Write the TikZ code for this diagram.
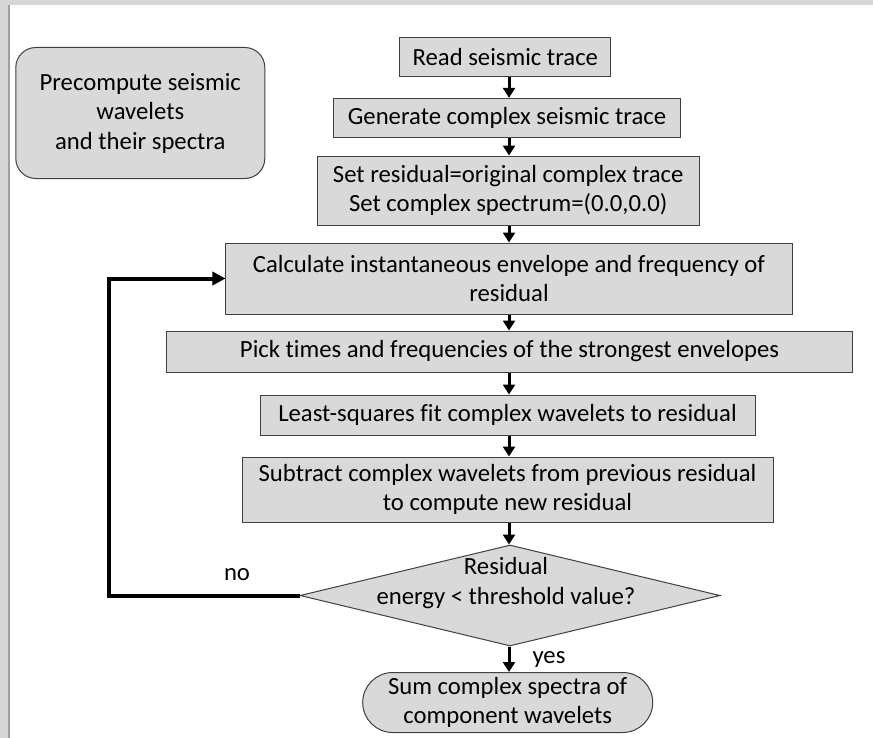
\documentclass[tikz,border=0pt]{standalone}
\usepackage{fontspec}
\setmainfont{Carlito}[Ligatures=NoCommon]
\usetikzlibrary{shapes.geometric,shapes.misc,arrows.meta}
\definecolor{boxfill}{HTML}{D9D9D9}
\definecolor{boxline}{HTML}{404040}
\definecolor{strip}{HTML}{D6D6D6}
\definecolor{stripline}{HTML}{A0A0A0}
\tikzset{
  every node/.style={font=\fontsize{24.7bp}{29.5bp}\selectfont},
  procbox/.style={draw=boxline, fill=boxfill, line width=1bp, inner sep=0pt, align=center},
  arr/.style={line width=3bp, -{Triangle[width=12bp,length=10bp]}},
  looparr/.style={line width=4bp, -{Triangle[width=13bp,length=13bp]}},
}
\begin{document}
\begin{tikzpicture}[x=1bp,y=-1bp]
  \useasboundingbox (0,0) rectangle (873,738);
  \fill[white] (0,0) rectangle (873,738);
  \fill[strip] (0,0) rectangle (873,5.5);
  \fill[strip] (0,0) rectangle (8,738);
  \draw[stripline, line width=1.5bp] (8.75,5.5) -- (8.75,738);

  \node[procbox, rounded corners=20bp, minimum width=249bp, minimum height=131bp] (pre) at (140.3,113)
    {Precompute seismic\\wavelets\\and their spectra};
  \node[procbox, minimum width=211bp, minimum height=39bp] (read) at (505.3,56.7) {Read seismic trace};
  \node[procbox, minimum width=347bp, minimum height=39bp] (gen) at (507,117.8) {Generate complex seismic trace};
  \node[procbox, minimum width=382bp, minimum height=69bp] (set) at (508.2,190.5)
    {Set residual=original complex trace\\Set complex spectrum=(0.0,0.0)};
  \node[procbox, minimum width=566bp, minimum height=71bp] (calc) at (509,278.5)
    {Calculate instantaneous envelope and frequency of\\residual};
  \node[procbox, minimum width=685bp, minimum height=41bp] (pick) at (509.5,351.5)
    {Pick times and frequencies of the strongest envelopes};
  \node[procbox, minimum width=495bp, minimum height=40bp] (lsq) at (507.5,415)
    {Least-squares fit complex wavelets to residual};
  \node[procbox, minimum width=531bp, minimum height=65bp] (sub) at (507.5,489.5)
    {Subtract complex wavelets from previous residual\\to compute new residual};
  \node[diamond, draw=boxline, fill=boxfill, line width=1bp, inner sep=0pt, aspect=4.16,
        minimum width=420bp, minimum height=101bp] (dec) at (510,595.5) {};
  \node[align=center, inner sep=0pt] (dectext) at (506,583) {Residual\\energy < threshold value?};
  \node[procbox, rounded rectangle, minimum width=290bp, minimum height=60bp] (sum) at (507.7,702.5)
    {Sum complex spectra of\\component wavelets};

  \coordinate (ax) at (509,0);
  \draw[arr] (read.south -| ax) -- (gen.north -| ax);
  \draw[arr] (gen.south -| ax) -- (set.north -| ax);
  \draw[arr] (set.south -| ax) -- (calc.north -| ax);
  \draw[arr] (calc.south -| ax) -- (pick.north -| ax);
  \draw[arr] (pick.south -| ax) -- (lsq.north -| ax);
  \draw[arr] (lsq.south -| ax) -- (sub.north -| ax);
  \draw[arr] (sub.south -| ax) -- (dec.north -| ax);
  \draw[arr] (dec.south -| ax) -- (sum.north -| ax);

  \coordinate (lx) at (108.5,0);
  \draw[looparr] (dec.west) -- (dec.west -| lx) -- (calc.west -| lx) -- (calc.west);

  \node[inner sep=0pt] (no) at (237,575) {no};
  \node[inner sep=0pt] (yes) at (549,659) {yes};
\end{tikzpicture}
\end{document}
